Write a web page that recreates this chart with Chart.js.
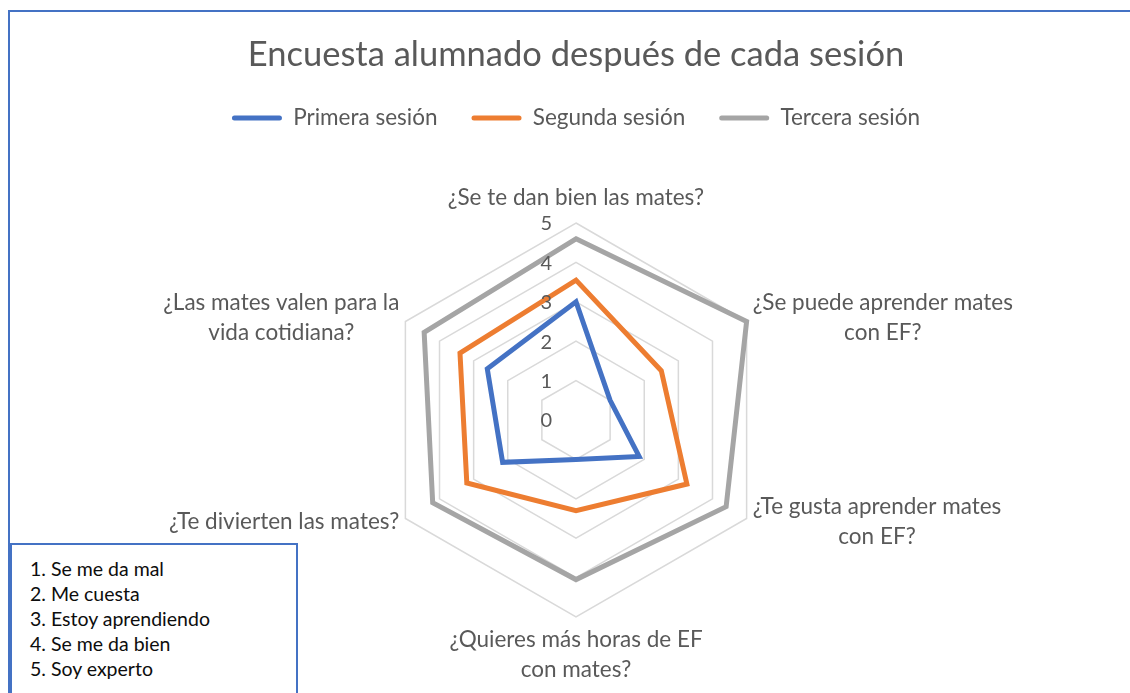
<!DOCTYPE html>
<html><head><meta charset="utf-8">
<script src="https://cdn.jsdelivr.net/npm/chart.js@4.4.0/dist/chart.umd.min.js"></script>
<style>
html,body{margin:0;padding:0;background:#fff;}
#wrap{position:relative;width:1130px;height:693px;overflow:hidden;}
#c{position:absolute;left:0;top:0;}
#frame{position:absolute;left:8px;top:10px;width:1140px;height:700px;border-top:2px solid #4472C4;border-left:2px solid #4472C4;pointer-events:none;}
#note{position:absolute;left:10px;top:543px;width:288px;height:200px;box-sizing:border-box;border:2px solid #4472C4;background:#fff;font-family:Lato;font-size:19.5px;color:#0d0d0d;line-height:25px;padding:10.5px 0 0 18px;}
</style></head>
<body><div id="wrap"><canvas id="c" width="1130" height="693"></canvas><div id="frame"></div><div id="note"></div></div>
<script>
const categories = [
  ['¿Se te dan bien las mates?'],
  ['¿Se puede aprender mates', 'con EF?'],
  ['¿Te gusta aprender mates', 'con EF?'],
  ['¿Quieres más horas de EF', 'con mates?'],
  ['¿Te divierten las mates?'],
  ['¿Las mates valen para la', 'vida cotidiana?']
];
const seriesNames = ['Primera sesión', 'Segunda sesión', 'Tercera sesión'];
const primera = [3.0, 1.0, 1.85, 1.0, 2.15, 2.6];
const segunda = [3.55, 2.5, 3.25, 2.3, 3.2, 3.4];
const tercera = [4.6, 5.0, 4.4, 4.05, 4.2, 4.45];
const tickValues = [0, 1, 2, 3, 4, 5];
const scaleNotes = ['1. Se me da mal', '2. Me cuesta', '3. Estoy aprendiendo', '4. Se me da bien', '5. Soy experto'];

const colors = ['#4472C4', '#ED7D31', '#A5A5A5'];
const FONT = 'Lato';
const LABEL_SIZE = 22.5;
const TICK_SIZE = 20;

document.getElementById('note').innerHTML = scaleNotes.map(t => '<div>' + t + '</div>').join('');

const labelPlugin = {
  id: 'customLabels',
  afterDraw(chart) {
    const s = chart.scales.r;
    const ctx = chart.ctx;
    ctx.save();
    ctx.fillStyle = '#595959';
    ctx.font = LABEL_SIZE + 'px ' + FONT;
    ctx.textBaseline = 'middle';
    ctx.textAlign = 'center';
    const lh = 30;
    chart.data.labels.forEach((lines, i) => {
      const n = lines.length;
      const W = Math.max(...lines.map(t => ctx.measureText(t).width));
      if (i === 0) {
        const p = s.getPointPosition(i, s.drawingArea + 12);
        lines.forEach((t, k) => ctx.fillText(t, p.x, p.y - 13 - (n - 1 - k) * lh));
      } else if (i === 3) {
        const p = s.getPointPosition(i, s.drawingArea + 10);
        lines.forEach((t, k) => ctx.fillText(t, p.x, p.y + 13 + k * lh));
      } else {
        const p = s.getPointPosition(i, s.drawingArea + 7);
        const cx = p.x > s.xCenter ? p.x + W / 2 : p.x - W / 2;
        lines.forEach((t, k) => ctx.fillText(t, cx, p.y + (k - (n - 1) / 2) * lh));
      }
    });
    ctx.font = TICK_SIZE + 'px ' + FONT;
    ctx.textAlign = 'right';
    tickValues.forEach(v => {
      const r = s.getDistanceFromCenterForValue(v);
      ctx.fillText(String(v), s.xCenter - 24, s.yCenter - r + 1);
    });
    ctx.restore();
  }
};

const seriesData = [primera, segunda, tercera];
new Chart(document.getElementById('c'), {
  type: 'radar',
  data: {
    labels: categories,
    datasets: seriesData.map((d, i) => ({
      label: seriesNames[i], data: d,
      borderColor: colors[i], backgroundColor: colors[i],
      borderWidth: 5, pointRadius: 0, pointHoverRadius: 0,
      fill: false, borderJoinStyle: 'miter', tension: 0
    }))
  },
  options: {
    responsive: false,
    animation: false,
    layout: { padding: { left: 22, right: 0, top: 0, bottom: 76 } },
    scales: {
      r: {
        min: 0, max: 5,
        ticks: { display: false, stepSize: 1 },
        grid: { color: '#D9D9D9', lineWidth: 1.5 },
        angleLines: { display: false },
        pointLabels: { display: false }
      }
    },
    plugins: {
      title: {
        display: true, text: 'Encuesta alumnado después de cada sesión', color: '#595959',
        font: { family: FONT, size: 34.5, weight: 'normal', lineHeight: 1.0 },
        padding: { top: 37.75, bottom: 0.5 }
      },
      legend: {
        display: true, position: 'top',
        labels: {
          boxWidth: 50, boxHeight: 5, padding: 34, color: '#595959',
          useBorderRadius: true, borderRadius: 2.5,
          font: { family: FONT, size: 22.5 },
          generateLabels: (chart) => Chart.defaults.plugins.legend.labels.generateLabels(chart).map(l => Object.assign(l, {
            fillStyle: colors[l.datasetIndex], strokeStyle: colors[l.datasetIndex], lineWidth: 0, borderRadius: 2.5
          }))
        }
      },
      subtitle: {
        display: true, text: '', weight: 500,
        font: { size: 10, lineHeight: 1 },
        padding: { top: 73.75, bottom: 0 }
      },
      tooltip: { enabled: false }
    }
  },
  plugins: [labelPlugin]
});
</script>
</body></html>
